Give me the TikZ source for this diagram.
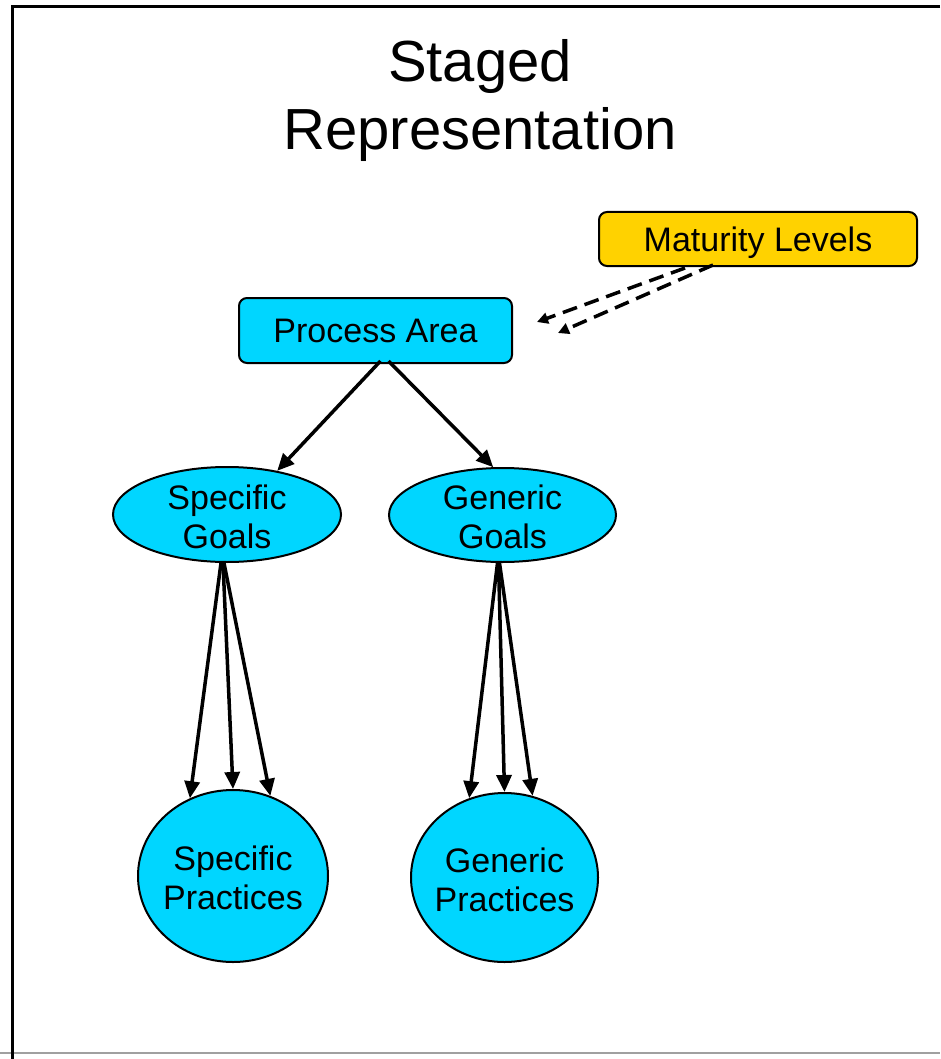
\documentclass[tikz,border=0pt]{standalone}
\usepackage{fontspec}
\setmainfont{Liberation Sans}
\usetikzlibrary{arrows.meta,shapes.geometric}
\definecolor{cyfill}{RGB}{0,214,255}
\definecolor{goldfill}{RGB}{255,210,0}
\definecolor{framegray}{RGB}{160,160,160}
\newcommand{\lowstrut}{\rule{0pt}{29pt}}
\begin{document}
\begin{tikzpicture}[x=1pt,y=-1pt,
  boxnode/.style={draw=black,line width=2pt,rounded corners=8pt,inner sep=0pt,
    text depth=0pt,font=\fontsize{34}{39}\selectfont},
  ellnode/.style={ellipse,draw=black,line width=2pt,fill=cyfill,inner sep=-4pt,
    align=center,font=\fontsize{34}{39}\selectfont},
  solidarrow/.style={line width=3.5pt,-{Triangle[length=17pt,width=15pt]}},
  dasharrow/.style={line width=3.5pt,dash pattern=on 15pt off 8pt,
    -{Triangle[length=11pt,width=11pt]}}
]
\useasboundingbox (0,0) rectangle (940,1059);
% frame
\draw[framegray,line width=2pt] (0,1053) -- (940,1053);
\draw[black,line width=2.2pt] (940,6.5) -- (12.5,6.5) -- (12.5,1059);

% title
\node[align=center,font=\fontsize{58}{68}\selectfont] (title) at (480,101) {Staged\\Representation};

% nodes
\node[boxnode,fill=goldfill,minimum width=318pt,minimum height=54pt] (ml) at (758,239) {Maturity Levels};
\node[boxnode,fill=cyfill,minimum width=273pt,minimum height=65pt] (pa) at (375.5,330.5) {Process Area};
\node[ellnode,minimum width=228pt,minimum height=95pt] (sg) at (227,514.5) {\lowstrut Specific\\Goals};
\node[ellnode,minimum width=227pt,minimum height=94pt] (gg) at (502.5,515) {\lowstrut Generic\\Goals};
\node[ellnode,minimum width=190pt,minimum height=172pt] (sp) at (233,876) {\lowstrut Specific\\Practices};
\node[ellnode,minimum width=187pt,minimum height=169pt] (gp) at (504.5,877.5) {\lowstrut Generic\\Practices};

% free ends of dashed arrows
\coordinate (d1) at (537,322);
\coordinate (d2) at (558,333);

% connectors
\draw[solidarrow] ([xshift=5pt,yshift=3pt]pa.south) -- (sg.41.5);
\draw[solidarrow] ([xshift=13pt,yshift=3pt]pa.south) -- (gg.101);

\draw[solidarrow] ([xshift=-6pt]sg.south) -- (sp.119.5);
\draw[solidarrow] ([xshift=-4pt]sg.south) -- (sp.90);
\draw[solidarrow] ([xshift=-3pt]sg.south) -- (sp.65);

\draw[solidarrow] ([xshift=-5pt]gg.south) -- (gp.114.7);
\draw[solidarrow] ([xshift=-4pt]gg.south) -- (gp.90);
\draw[solidarrow] ([xshift=-3pt]gg.south) -- (gp.71);

\draw[dasharrow] ([xshift=-73pt,yshift=-1pt]ml.south) -- (d1);
\draw[dasharrow] ([xshift=-45pt,yshift=2pt]ml.south) -- (d2);
\end{tikzpicture}
\end{document}
